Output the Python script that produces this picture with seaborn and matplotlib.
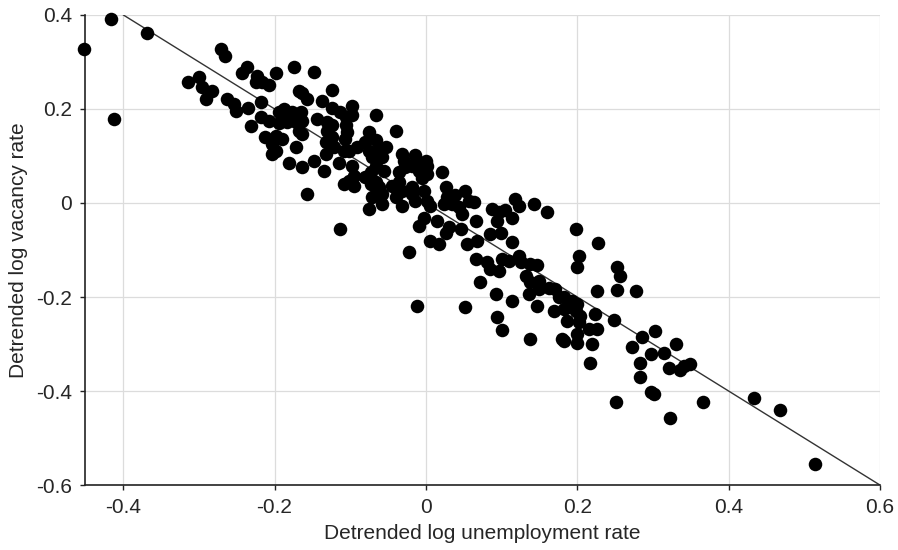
import numpy as np
import pandas as pd
import matplotlib
matplotlib.use("Agg")
import matplotlib.pyplot as plt
import seaborn as sns

# detrended log unemployment (x) vs detrended log vacancy rate (y)
unemp = [
    -0.452, -0.416, -0.412, -0.368, -0.314, -0.300, -0.296, -0.283, -0.291, -0.271,
    -0.265, -0.263, -0.253, -0.251, -0.243, -0.236, -0.235, -0.231, -0.225, -0.223,
    -0.217, -0.207, -0.198, -0.218, -0.218, -0.207, -0.194, -0.212, -0.198, -0.190,
    -0.203, -0.188, -0.181, -0.174, -0.148, -0.168, -0.164, -0.157, -0.124, -0.137,
    -0.194, -0.185, -0.177, -0.165, -0.164, -0.124, -0.113, -0.106, -0.098, -0.098,
    -0.144, -0.184, -0.172, -0.168, -0.164, -0.131, -0.124, -0.131, -0.124, -0.132,
    -0.122, -0.132, -0.106, -0.104, -0.066, -0.203, -0.198, -0.172, -0.164, -0.148,
    -0.135, -0.115, -0.108, -0.102, -0.107, -0.091, -0.075, -0.080, -0.066, -0.065,
    -0.075, -0.071, -0.058, -0.098, -0.095, -0.102, -0.108, -0.095, -0.080, -0.073,
    -0.062, -0.066, -0.058, -0.157, -0.075, -0.113, -0.053, -0.040, -0.062, -0.032,
    -0.014, 0.000, 0.021, -0.029, -0.009, 0.001, -0.066, -0.055, -0.036, -0.027,
    -0.019, -0.009, 0.001, -0.005, -0.073, -0.066, -0.071, -0.058, -0.045, -0.036,
    -0.032, -0.019, -0.040, -0.032, -0.014, -0.019, -0.003, 0.001, 0.006, 0.026,
    0.028, 0.039, 0.024, 0.034, 0.044, 0.052, 0.057, 0.048, -0.003, 0.015,
    -0.009, 0.026, 0.030, 0.006, 0.017, 0.054, 0.066, -0.022, 0.063, 0.066,
    0.046, 0.087, 0.096, 0.105, 0.094, 0.114, 0.118, 0.123, 0.143, 0.160,
    0.085, 0.099, 0.067, 0.114, 0.081, 0.085, 0.096, 0.100, 0.110, 0.123,
    0.125, 0.138, 0.147, 0.072, 0.132, 0.138, 0.149, 0.136, 0.149, 0.162,
    0.171, 0.176, 0.092, 0.114, 0.147, 0.169, 0.182, 0.052, 0.094, 0.100,
    0.138, 0.180, -0.012, 0.198, 0.228, 0.202, 0.199, 0.252, 0.257, 0.226,
    0.252, 0.277, 0.182, 0.193, 0.199, 0.189, 0.198, 0.204, 0.224, 0.248,
    0.186, 0.202, 0.199, 0.215, 0.226, 0.199, 0.219, 0.217, 0.285, 0.303,
    0.272, 0.297, 0.314, 0.283, 0.321, 0.330, 0.182, 0.336, 0.349, 0.341,
    0.283, 0.298, 0.301, 0.366, 0.323, 0.433, 0.468, 0.514, 0.251,
]
vacancy = [
    0.328, 0.392, 0.179, 0.362, 0.257, 0.267, 0.246, 0.239, 0.221, 0.328,
    0.313, 0.222, 0.211, 0.196, 0.276, 0.289, 0.201, 0.164, 0.257, 0.271,
    0.257, 0.250, 0.277, 0.214, 0.182, 0.175, 0.169, 0.140, 0.143, 0.137,
    0.105, 0.200, 0.084, 0.289, 0.278, 0.239, 0.233, 0.222, 0.241, 0.217,
    0.193, 0.190, 0.193, 0.193, 0.175, 0.201, 0.193, 0.182, 0.207, 0.186,
    0.179, 0.172, 0.172, 0.154, 0.147, 0.172, 0.165, 0.154, 0.140, 0.129,
    0.118, 0.105, 0.165, 0.150, 0.186, 0.126, 0.111, 0.118, 0.076, 0.090,
    0.069, 0.084, 0.111, 0.111, 0.137, 0.118, 0.150, 0.129, 0.133, 0.111,
    0.111, 0.097, 0.097, 0.079, 0.058, 0.047, 0.041, 0.037, 0.055, 0.041,
    0.033, 0.020, 0.020, 0.020, -0.012, -0.055, 0.118, 0.154, 0.108, 0.105,
    0.101, 0.090, 0.065, 0.090, 0.086, 0.079, 0.079, 0.069, 0.065, 0.076,
    0.079, 0.069, 0.062, 0.052, 0.065, 0.044, 0.012, -0.002, 0.037, 0.044,
    0.026, 0.033, 0.012, -0.006, 0.005, 0.020, 0.026, 0.005, -0.006, 0.033,
    0.012, 0.016, -0.002, -0.002, -0.009, 0.026, 0.005, -0.023, -0.033, -0.038,
    -0.048, -0.063, -0.052, -0.080, -0.087, -0.087, -0.119, -0.105, 0.001, -0.038,
    -0.055, -0.012, -0.020, -0.016, -0.038, -0.033, 0.009, -0.006, -0.002, -0.020,
    -0.065, -0.063, -0.080, -0.084, -0.126, -0.140, -0.144, -0.119, -0.123, -0.112,
    -0.126, -0.129, -0.133, -0.169, -0.155, -0.169, -0.165, -0.193, -0.182, -0.180,
    -0.182, -0.201, -0.193, -0.208, -0.219, -0.229, -0.225, -0.222, -0.243, -0.270,
    -0.289, -0.289, -0.220, -0.055, -0.086, -0.112, -0.137, -0.137, -0.155, -0.187,
    -0.185, -0.188, -0.201, -0.208, -0.214, -0.222, -0.229, -0.240, -0.236, -0.248,
    -0.250, -0.254, -0.278, -0.267, -0.267, -0.297, -0.299, -0.341, -0.286, -0.272,
    -0.307, -0.321, -0.320, -0.341, -0.350, -0.299, -0.293, -0.355, -0.342, -0.346,
    -0.370, -0.403, -0.406, -0.423, -0.457, -0.414, -0.440, -0.555, -0.423,
]

# 45-degree reference line
line_x = [-0.4, 0.6]
line_y = [0.4, -0.6]

x_ticks = [-0.4, -0.2, 0, 0.2, 0.4, 0.6]
x_tick_labels = ["-0.4", "-0.2", "0", "0.2", "0.4", "0.6"]
y_ticks = [-0.6, -0.4, -0.2, 0, 0.2, 0.4]
y_tick_labels = ["-0.6", "-0.4", "-0.2", "0", "0.2", "0.4"]

df = pd.DataFrame({"u": unemp, "v": vacancy})

sns.set_style("whitegrid", {"grid.color": "#dcdcdc", "axes.edgecolor": "#222222"})
plt.rcParams["font.family"] = ["Liberation Sans", "DejaVu Sans"]

fig = plt.figure(figsize=(8.98, 5.5), dpi=100)
ax = fig.add_axes([0.095, 0.118, 0.885, 0.855])

sns.lineplot(x=line_x, y=line_y, ax=ax, color="#333333", linewidth=1.0, zorder=2)
sns.scatterplot(data=df, x="u", y="v", ax=ax, color="black", s=95,
                linewidth=0, zorder=3, clip_on=False)

ax.set_xlim(-0.45, 0.6)
ax.set_ylim(-0.6, 0.4)
ax.set_xticks(x_ticks)
ax.set_xticklabels(x_tick_labels)
ax.set_yticks(y_ticks)
ax.set_yticklabels(y_tick_labels)
ax.grid(True, color="#dcdcdc", linewidth=0.9)
ax.set_axisbelow(True)

for side in ["top", "right"]:
    ax.spines[side].set_visible(False)
for side in ["left", "bottom"]:
    ax.spines[side].set_color("#222222")
    ax.spines[side].set_linewidth(1.2)

ax.tick_params(axis="both", which="both", direction="out", length=3.5, width=1,
               color="#222222", labelsize=15, left=True, bottom=True, pad=6)
ax.set_xlabel("Detrended log unemployment rate", fontsize=15, labelpad=5)
ax.set_ylabel("Detrended log vacancy rate", fontsize=15, labelpad=6)

fig.savefig("out.png", dpi=100)
